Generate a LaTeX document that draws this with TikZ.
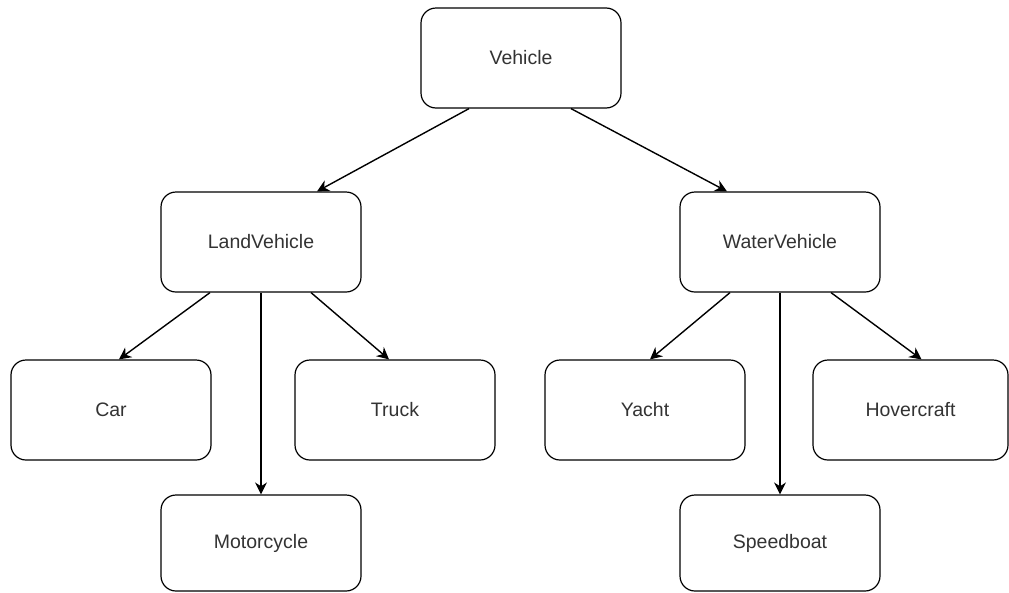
\documentclass[tikz,border=0pt]{standalone}
\usepackage{fontspec}
\setmainfont{Liberation Sans}
\usetikzlibrary{arrows.meta}
\definecolor{txt}{HTML}{333333}
\tikzset{
  box/.style={draw=black, line width=1.2pt, rounded corners=15pt, fill=white,
    minimum width=200pt, minimum height=100pt, inner sep=0pt,
    font=\fontsize{19.5pt}{22pt}\selectfont, text=txt},
  link/.style={draw=black, line width=1.4pt, -{Stealth[length=12pt,width=12pt]}}
}
\begin{document}
\begin{tikzpicture}[x=1pt,y=-1pt]
\useasboundingbox (0,0) rectangle (1009,592);
% class hierarchy
\node[box] (veh) at (521,58) {Vehicle};
\node[box] (land) at (261,242) {LandVehicle};
\node[box] (water) at (780,242) {WaterVehicle};
\node[box] (car) at (111,410) {Car};
\node[box] (truck) at (395,410) {Truck};
\node[box, minimum height=96pt] (moto) at (261,543) {Motorcycle};
\node[box] (yacht) at (645,410) {Yacht};
\node[box, minimum width=195pt] (hover) at (910.5,410) {Hovercraft};
\node[box, minimum height=96pt] (speed) at (780,543) {Speedboat};
% inheritance links
\draw[link] ([xshift=-52pt]veh.south) -- ([xshift=56pt]land.north);
\draw[link] ([xshift=50pt]veh.south) -- ([xshift=-53pt]water.north);
\draw[link] ([xshift=-51pt]land.south) -- ([xshift=8pt]car.north);
\draw[link] (land.south) -- (moto.north);
\draw[link] ([xshift=50pt]land.south) -- ([xshift=-6pt]truck.north);
\draw[link] ([xshift=-50pt]water.south) -- ([xshift=5pt]yacht.north);
\draw[link] (water.south) -- (speed.north);
\draw[link] ([xshift=51pt]water.south) -- ([xshift=11pt]hover.north);
\end{tikzpicture}
\end{document}
